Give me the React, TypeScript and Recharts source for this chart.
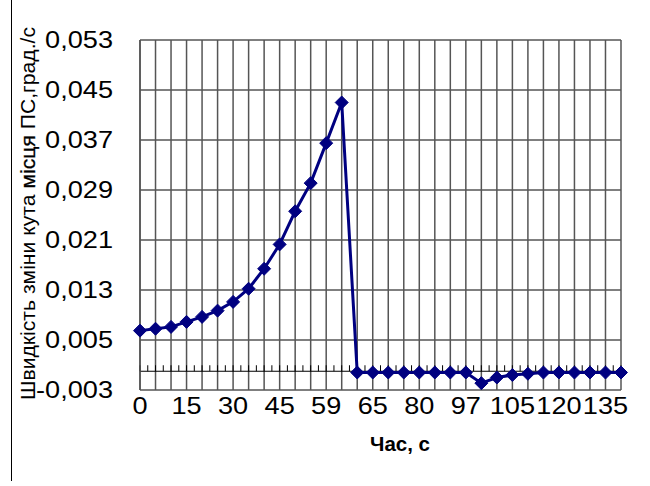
import React from "react";
import { LineChart, Line, XAxis, YAxis, CartesianGrid, ReferenceLine } from "recharts";

const times = [0, 5, 10, 15, 20, 25, 30, 35, 40, 45, 50, 55, 59, 60, 62, 65, 70, 75, 80, 85, 90, 97, 99, 102, 105, 110, 115, 120, 125, 130, 135, 140];
const speeds = [
  0.0065, 0.0068, 0.0071, 0.0079, 0.0087, 0.0097, 0.0111, 0.0132, 0.0164, 0.0203, 0.0256, 0.0301, 0.0365, 0.043,
  -0.0002, -0.0002, -0.0002, -0.0002, -0.0002, -0.0002, -0.0002, -0.0002, -0.0019, -0.001, -0.0006, -0.0004,
  -0.0002, -0.0002, -0.0002, -0.0002, -0.0002, -0.0002,
];
const majorTicks = [-0.003, 0.005, 0.013, 0.021, 0.029, 0.037, 0.045, 0.053];
const minorTicks = [-0.003, 0.001, 0.005, 0.009, 0.013, 0.017, 0.021, 0.025, 0.029, 0.033, 0.037, 0.041, 0.045, 0.049, 0.053];
const yTitle = ["Швидкість зміни кута ", "місця", " ПС,град./с"];
const xTitle = "Час, с";

const data = times.map((t, i) => ({ t, v: speeds[i] }));

const FONT = "'Liberation Sans', Arial, sans-serif";
const NAVY = "#000080";
const FS = 23;
const STRETCH = 1.18;

// Arial advance widths (em) used to stretch labels like the reference
const textWidth = (s: string) => {
  let em = 0;
  for (const ch of s) {
    if (ch === "," || ch === ".") em += 0.278;
    else if (ch === "-") em += 0.333;
    else em += 0.556;
  }
  return em * FS * STRETCH;
};

const YTick = (props: any) => {
  const { x, y, payload } = props;
  const txt = payload.value.toFixed(3).replace(".", ",");
  return (
    <text
      x={x}
      y={y}
      textAnchor="end"
      dy="0.35em"
      fontSize={FS}
      fontFamily={FONT}
      fill="#000"
      textLength={textWidth(txt)}
      lengthAdjust="spacingAndGlyphs"
    >
      {txt}
    </text>
  );
};

const XTick = (props: any) => {
  const { x, y, payload, index } = props;
  if (index % 3 !== 0) return <g />;
  const txt = String(payload.value);
  return (
    <text
      x={x}
      y={y}
      textAnchor="middle"
      dy="0.35em"
      fontSize={FS}
      fontFamily={FONT}
      fill="#000"
      textLength={textWidth(txt)}
      lengthAdjust="spacingAndGlyphs"
    >
      {txt}
    </text>
  );
};

const Diamond = (props: any) => {
  const { cx, cy, index } = props;
  if (cx == null || cy == null) return <g key={index} />;
  const s = 6.5;
  return (
    <polygon
      key={index}
      points={`${cx},${cy - s} ${cx + s},${cy} ${cx},${cy + s} ${cx - s},${cy}`}
      fill={NAVY}
      stroke={NAVY}
      strokeWidth={1}
    />
  );
};

const ZeroAxis = (props: any) => {
  const { x1, y1, x2 } = props;
  const n = data.length;
  const step = (x2 - x1) / ((n - 1) * 2);
  const ticks = [];
  for (let i = 0; i <= (n - 1) * 2; i++) {
    const x = x1 + i * step;
    ticks.push(<line key={i} x1={x} x2={x} y1={y1 - 6} y2={y1} stroke="#000" strokeWidth={1} />);
  }
  return (
    <g>
      <line x1={x1} x2={x2} y1={y1} y2={y1} stroke="#000" strokeWidth={1.2} />
      {ticks}
    </g>
  );
};

const YTitle = () => (
  <text
    transform="translate(35,213.5) rotate(-90)"
    textAnchor="middle"
    fontSize={21}
    fontFamily={FONT}
    fill="#000"
    textLength={373}
    lengthAdjust="spacingAndGlyphs"
  >
    <tspan>{yTitle[0]}</tspan>
    <tspan stroke="#000" strokeWidth={0.3}>{yTitle[1]}</tspan>
    <tspan>{yTitle[2]}</tspan>
  </text>
);

const XTitle = () => (
  <text
    x={400}
    y={451}
    textAnchor="middle"
    fontSize={20.5}
    fontWeight="bold"
    fontFamily={FONT}
    fill="#000"
    textLength={60}
    lengthAdjust="spacingAndGlyphs"
  >
    {xTitle}
  </text>
);

export default function App() {
  return (
    <div style={{ position: "absolute", left: 0, top: 0, width: 650, height: 486, background: "#fff" }}>
      <div style={{ position: "absolute", left: 11, top: 0, width: 0, height: 481, borderLeft: "1px solid #000" }} />
      <LineChart width={650} height={486} data={data} margin={{ top: 40, right: 29, left: 0, bottom: 0 }}>
        <CartesianGrid yAxisId="main" vertical={false} stroke="#000" strokeWidth={1} />
        <CartesianGrid yAxisId="main" horizontal={false} stroke="#555" strokeWidth={1.5} />
        <XAxis
          dataKey="t"
          interval={0}
          height={96}
          tickLine={false}
          axisLine={false}
          tickSize={0}
          tickMargin={16}
          tick={<XTick />}
          label={<XTitle />}
        />
        <YAxis
          yAxisId="main"
          type="number"
          domain={[-0.003, 0.053]}
          ticks={majorTicks}
          width={140}
          tickLine={false}
          tickSize={0}
          tickMargin={27}
          axisLine={{ stroke: "#555", strokeWidth: 1.5 }}
          tick={<YTick />}
          label={<YTitle />}
        />
        <YAxis
          yAxisId="minor"
          type="number"
          domain={[-0.003, 0.053]}
          ticks={minorTicks}
          width={0}
          mirror
          tickSize={6}
          axisLine={false}
          tickLine={{ stroke: "#000", strokeWidth: 1 }}
          tick={() => <g />}
        />
        <ReferenceLine yAxisId="main" y={0} shape={<ZeroAxis />} />
        <Line
          yAxisId="main"
          type="linear"
          dataKey="v"
          stroke={NAVY}
          strokeWidth={3}
          dot={<Diamond />}
          activeDot={false}
          isAnimationActive={false}
        />
      </LineChart>
    </div>
  );
}
